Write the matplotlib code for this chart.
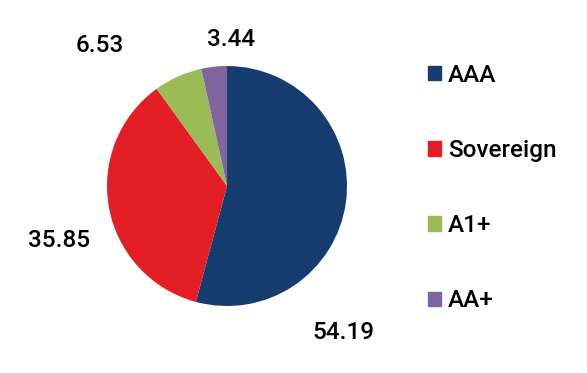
import matplotlib.pyplot as plt
from matplotlib.patches import Patch

plt.rcParams['font.family'] = ['Roboto', 'DejaVu Sans']
plt.rcParams['font.weight'] = 'medium'

labels = ['AAA', 'Sovereign', 'A1+', 'AA+']
values = [54.19, 35.85, 6.53, 3.44]
colors = ['#173c70', '#e31e24', '#9bbb59', '#8064a2']

# label positions (data units, radius = 1)
label_pos = [(0.967, -1.217), (-1.4, -0.45), (-1.058, 1.175), (0.033, 1.217)]

fig = plt.figure(figsize=(5.87, 3.73), dpi=100)
ax = fig.add_axes([0.1823, 0.1796, 0.4089, 0.6434])
wedges, texts = ax.pie(values, colors=colors, startangle=90, counterclock=False,
                       labels=['{:.2f}'.format(v) for v in values],
                       labeldistance=1.4, textprops={'fontsize': 17.5})
for t, p in zip(texts, label_pos):
    t.set_position(p)
    t.set_ha('center')
    t.set_va('center')
ax.set_xlim(-1, 1)
ax.set_ylim(-1, 1)
ax.set_aspect('equal')

handles = [Patch(color=c, label=l) for c, l in zip(colors, labels)]
fig.legend(handles=handles, loc='center left', bbox_to_anchor=(428 / 587, 0.496),
           frameon=False, fontsize=17.5, handlelength=0.54, handleheight=0.54,
           handletextpad=0.29, labelspacing=2.15, borderpad=0, borderaxespad=0)

plt.savefig('out.png', dpi=100)
